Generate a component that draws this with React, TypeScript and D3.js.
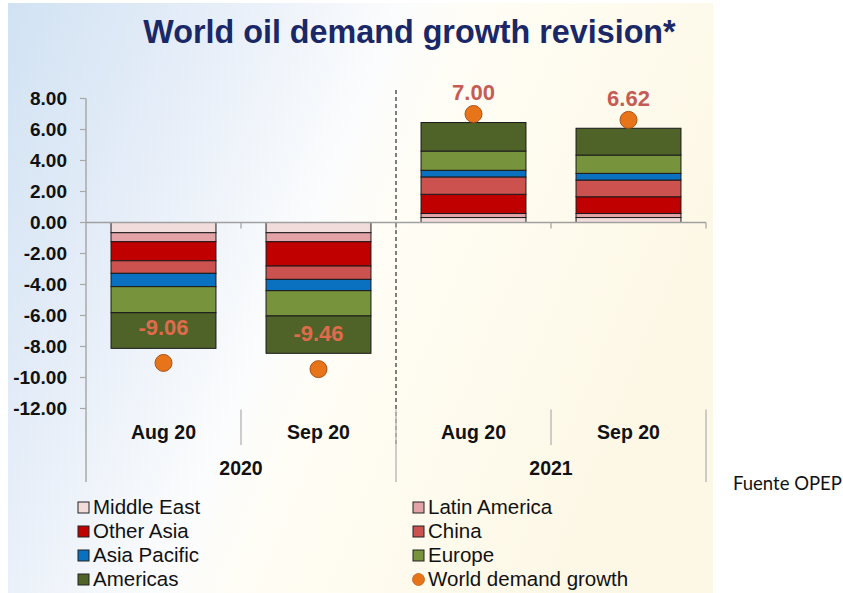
import * as d3 from 'd3';

const W = 843, H = 593;
const X0 = 86, X1 = 706;      // plot left / right
const Y_TOP = 98.5, Y_BOT = 408.5;
const FONT = '"Liberation Sans", Arial, sans-serif';

// data
const CATEGORIES = ['Aug 20', 'Sep 20', 'Aug 20', 'Sep 20'];
const YEARS = ['2020', '2021'];
const REGIONS = ['Middle East', 'Latin America', 'Other Asia', 'China', 'Asia Pacific', 'Europe', 'Americas'];
const MIDDLE_EAST = [-0.66, -0.66, 0.32, 0.32];
const LATIN_AMERICA = [-0.58, -0.58, 0.26, 0.26];
const OTHER_ASIA = [-1.23, -1.57, 1.24, 1.08];
const CHINA = [-0.81, -0.86, 1.12, 1.08];
const ASIA_PACIFIC = [-0.86, -0.73, 0.43, 0.43];
const EUROPE = [-1.68, -1.63, 1.24, 1.18];
const AMERICAS = [-2.30, -2.41, 1.84, 1.73];
const WORLD = [-9.06, -9.46, 7.00, 6.62];
const Y_TICKS = [8, 6, 4, 2, 0, -2, -4, -6, -8, -10, -12];

const REGION_VALUES = [MIDDLE_EAST, LATIN_AMERICA, OTHER_ASIA, CHINA, ASIA_PACIFIC, EUROPE, AMERICAS];
const COLORS = ['#f2dcdb', '#e3a3a6', '#c00000', '#cc5250', '#0a70c0', '#77933c', '#4f6228'];
const DOT_FILL = '#e8741a';

export default function App() {
  const idx = CATEGORIES.map((_, i) => String(i));
  const x = d3.scaleBand<string>().domain(idx).range([X0, X1]).paddingInner(0.323).paddingOuter(0.1615);
  const y = d3.scaleLinear().domain([-12, 8]).range([Y_BOT, Y_TOP]);
  const step = x.step();

  const rows = CATEGORIES.map((_, i) => {
    const r: Record<string, number> = {};
    REGIONS.forEach((name, k) => { r[name] = REGION_VALUES[k][i]; });
    return r;
  });
  const stacked = d3.stack<Record<string, number>>().keys(REGIONS).offset(d3.stackOffsetDiverging)(rows);

  const y0 = y(0);
  const sepY0 = Y_BOT + 1;
  const groupBottom = 482;

  return (
    <svg width={W} height={H} viewBox={`0 0 ${W} ${H}`}
      style={{ position: 'absolute', left: 0, top: 0, background: '#fff' }} fontFamily={FONT}>
      <defs>
        <linearGradient id="bg" x1="0" y1="0" x2="1" y2="0.35">
          <stop offset="0" stopColor="#d1e2f3" />
          <stop offset="0.25" stopColor="#e5edf8" />
          <stop offset="0.5" stopColor="#fbfcfd" />
          <stop offset="0.6" stopColor="#fffdf5" />
          <stop offset="1" stopColor="#fdf8e6" />
        </linearGradient>
      </defs>
      <rect x={8} y={3} width={705} height={H - 3} fill="url(#bg)" />

      <text x={409.5} y={43} textAnchor="middle" fontSize={32.3} fontWeight="bold" fill="#1a2868">
        World oil demand growth revision*
      </text>

      {/* y axis */}
      <line x1={X0} x2={X0} y1={Y_TOP} y2={groupBottom} stroke="#a8a8a8" strokeWidth={1.5} />
      {Y_TICKS.map(t => (
        <g key={t}>
          <line x1={X0 - 6} x2={X0} y1={y(t)} y2={y(t)} stroke="#a8a8a8" strokeWidth={1.2} />
          <text x={67} y={y(t) + 6.5} textAnchor="end" fontSize={19} fontWeight="bold" fill="#111">
            {t.toFixed(2)}
          </text>
        </g>
      ))}

      {/* dashed year divider */}
      <line x1={X0 + 2 * step} x2={X0 + 2 * step} y1={90} y2={445}
        stroke="#555" strokeWidth={1.5} strokeDasharray="4 3" />

      {/* stacked bars */}
      {stacked.map((s, k) => (
        <g key={s.key} fill={COLORS[k]} stroke="#1a1a1a" strokeWidth={1}>
          {s.map((d, i) => (
            <rect key={i} x={x(String(i))} width={x.bandwidth()}
              y={y(Math.max(d[0], d[1]))} height={Math.abs(y(d[0]) - y(d[1]))} />
          ))}
        </g>
      ))}

      {/* zero line + ticks */}
      <line x1={X0} x2={X1} y1={y0} y2={y0} stroke="#a0a0a0" strokeWidth={1.5} />
      {d3.range(1, CATEGORIES.length + 1).map(i => (
        <line key={i} x1={X0 + i * step} x2={X0 + i * step} y1={y0} y2={y0 + 6} stroke="#a0a0a0" strokeWidth={1.2} />
      ))}

      {/* world demand dots + labels */}
      {WORLD.map((v, i) => {
        const cx = (x(String(i)) ?? 0) + x.bandwidth() / 2;
        const cy = y(v);
        const ly = v < 0 ? cy - 36 : cy - 22;
        return (
          <g key={i}>
            <circle cx={cx} cy={cy} r={8.5} fill={DOT_FILL} stroke="#a9531c" strokeWidth={1} />
            <text x={cx} y={ly + 8} textAnchor="middle" fontSize={22} fontWeight="bold"
              fill={v < 0 ? '#e06a4c' : '#c55b55'}>
              {v.toFixed(2)}
            </text>
          </g>
        );
      })}

      {/* category axis */}
      {CATEGORIES.map((c, i) => (
        <text key={i} x={(x(String(i)) ?? 0) + x.bandwidth() / 2} y={439} textAnchor="middle"
          fontSize={19.5} fontWeight="bold" fill="#111">{c}</text>
      ))}
      {[1, 3].map(i => (
        <line key={i} x1={X0 + i * step} x2={X0 + i * step} y1={sepY0} y2={445} stroke="#bdbdbd" strokeWidth={1.5} />
      ))}
      {[2, 4].map(i => (
        <line key={i} x1={X0 + i * step} x2={X0 + i * step} y1={sepY0} y2={groupBottom} stroke="#bdbdbd" strokeWidth={1.5} />
      ))}
      {YEARS.map((yr, j) => (
        <text key={yr} x={X0 + (j * 2 + 1) * step} y={475} textAnchor="middle"
          fontSize={19.5} fontWeight="bold" fill="#111">{yr}</text>
      ))}

      {/* legend */}
      {[...REGIONS, 'World demand growth'].map((name, i) => {
        const col = i % 2, row = Math.floor(i / 2);
        const bx = col === 0 ? 78 : 413;
        const by = 514 + row * 24;
        return (
          <g key={name}>
            {i < REGIONS.length
              ? <rect x={bx} y={by - 12} width={11} height={11} fill={COLORS[i]} stroke="#222" strokeWidth={1} />
              : <circle cx={bx + 5.5} cy={by - 6.5} r={6} fill={DOT_FILL} stroke="#c0601a" strokeWidth={0.8} />}
            <text x={bx + 15} y={by} fontSize={20.5} fill="#111">{name}</text>
          </g>
        );
      })}

      <text x={733} y={490} fontSize={18.5} fontFamily="Lato, 'Open Sans', sans-serif" fill="#111">Fuente OPEP</text>
    </svg>
  );
}
